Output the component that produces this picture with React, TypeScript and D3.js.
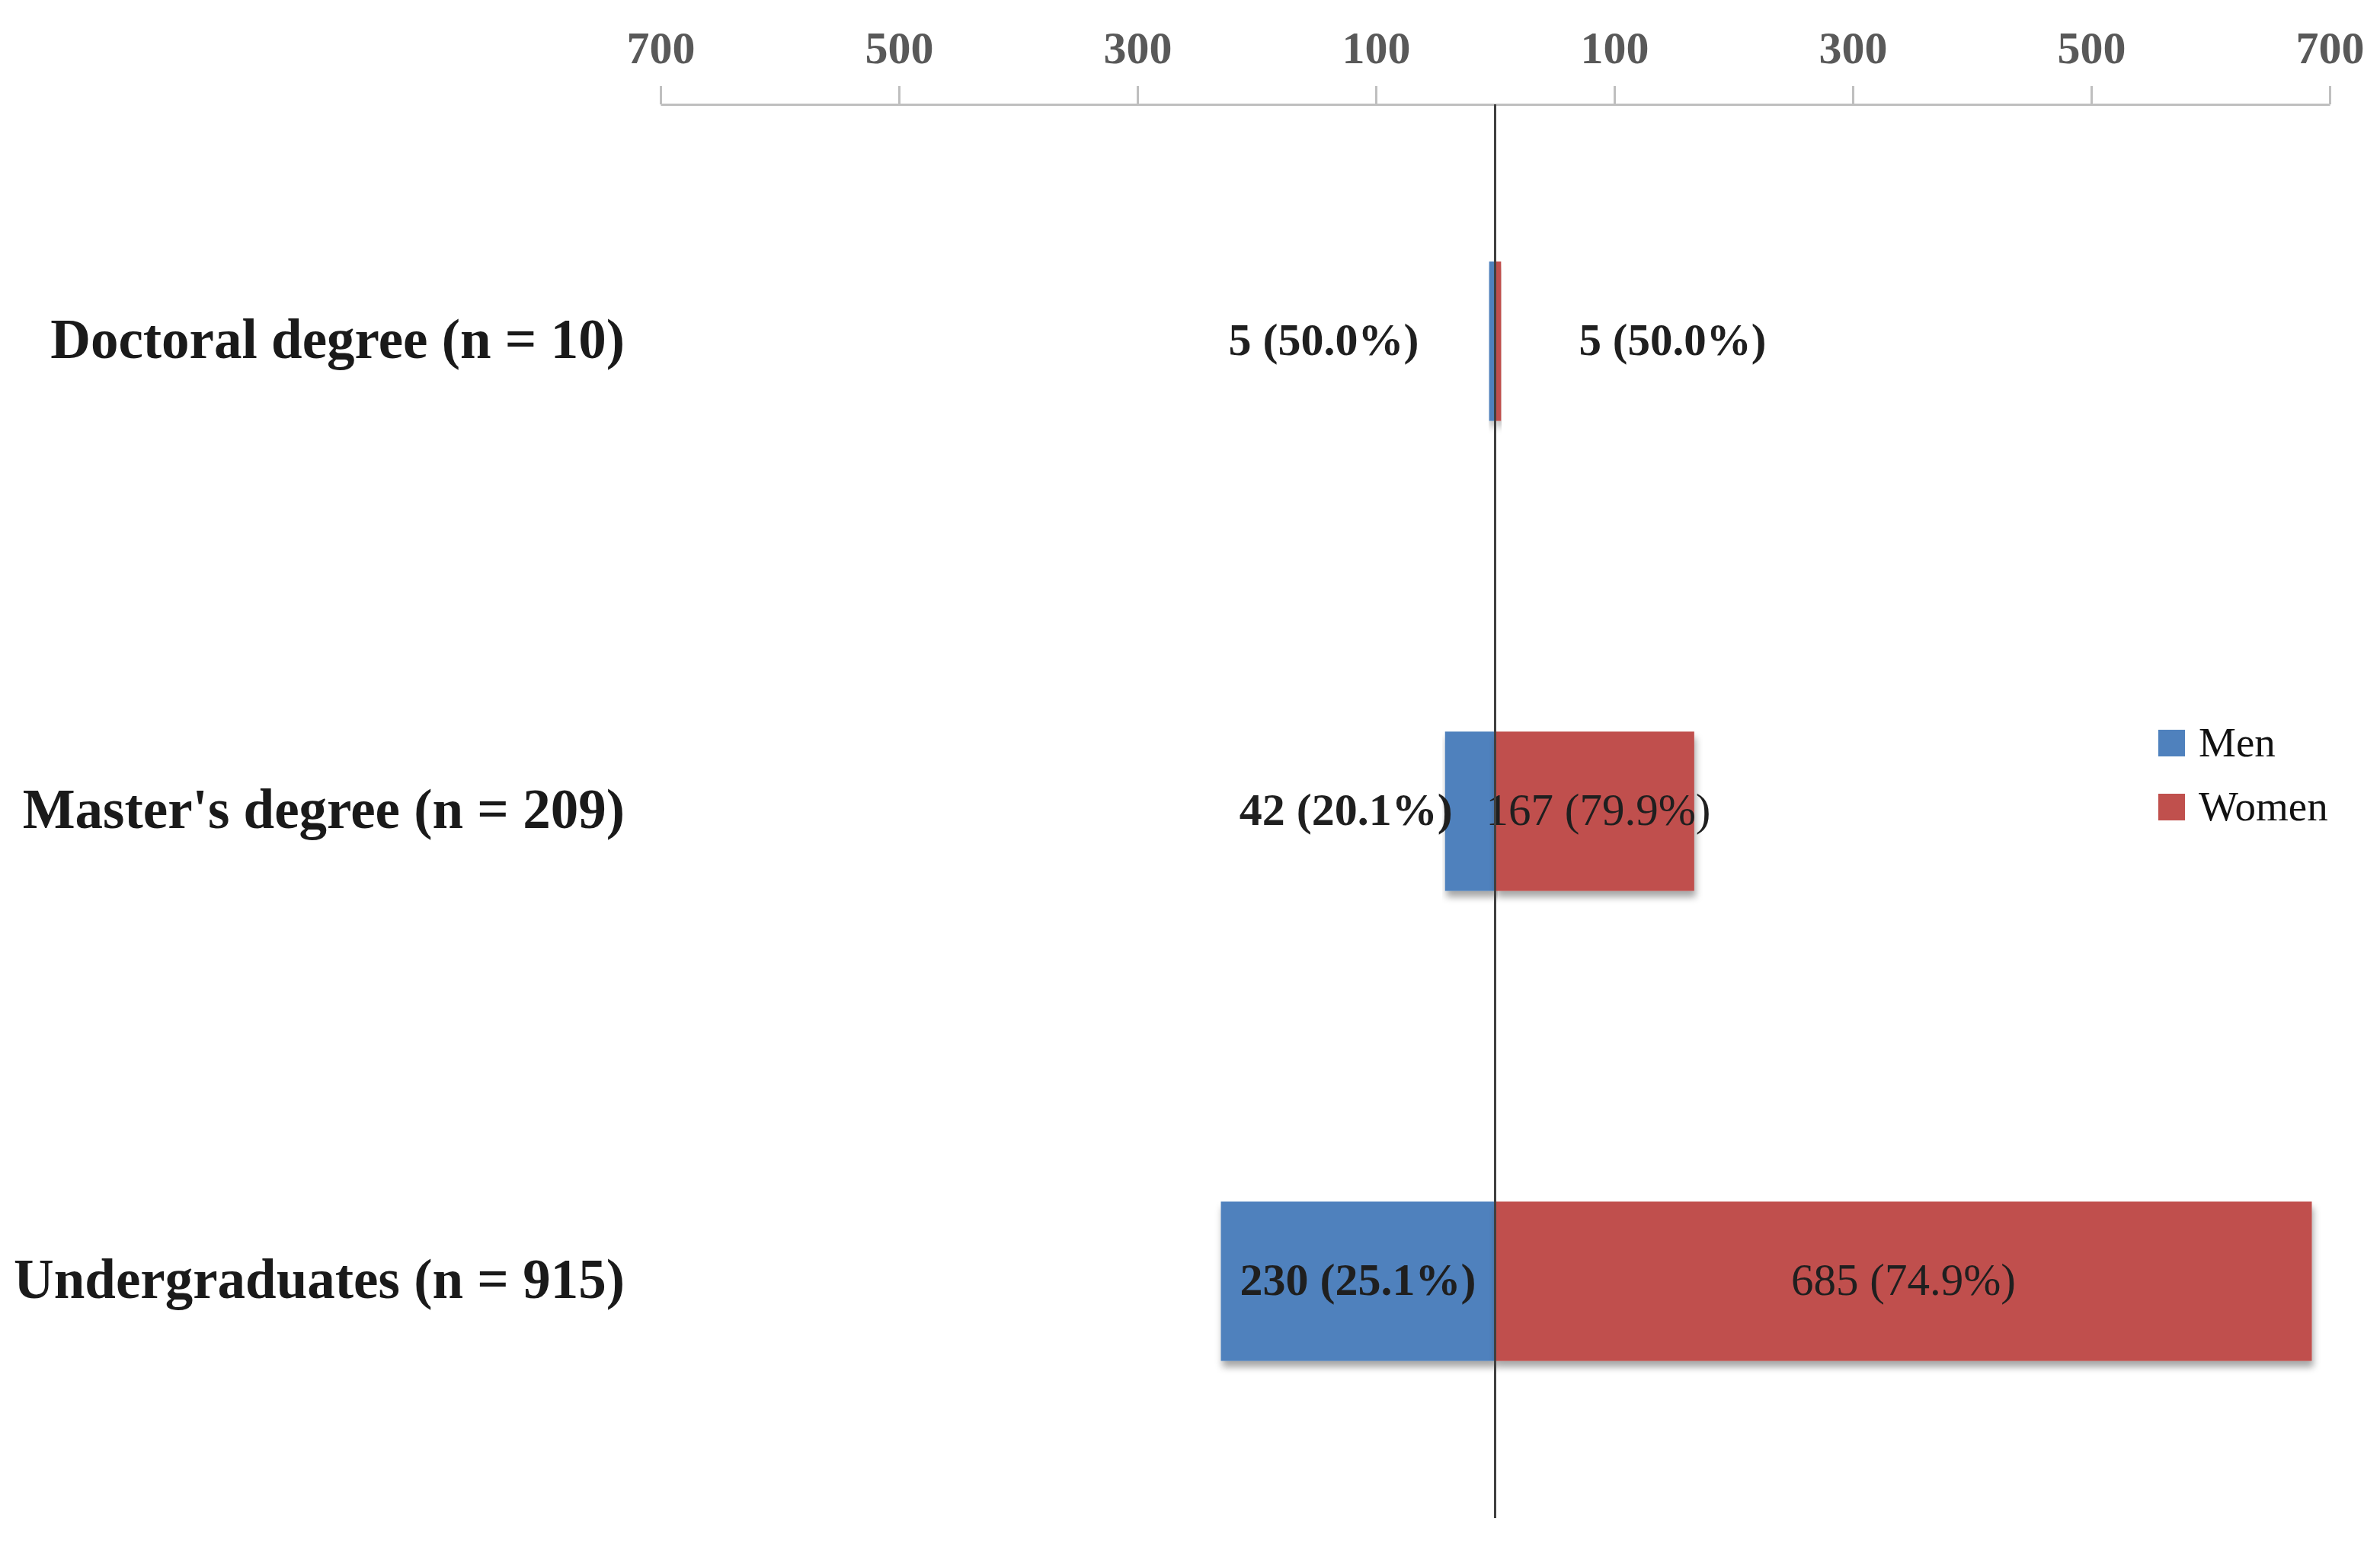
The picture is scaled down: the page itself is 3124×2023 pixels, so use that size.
import * as d3 from "d3";

const categories = [
  "Doctoral degree (n = 10)",
  "Master's degree (n = 209)",
  "Undergraduates (n = 915)",
];
const men = [5, 42, 230];
const women = [5, 167, 685];
const menPct = ["50.0%", "20.1%", "25.1%"];
const womenPct = ["50.0%", "79.9%", "74.9%"];
const tickValues = [-700, -500, -300, -100, 100, 300, 500, 700];
const legendLabels = ["Men", "Women"];

const BLUE = "#4f81bd";
const RED = "#c0504d";
const FONT = "'Liberation Serif', 'Times New Roman', serif";

const App = () => {
  const width = 3124;
  const height = 2023;
  const axisY = 137;
  const bottomY = 1993;

  const xScale = d3.scaleLinear().domain([-700, 700]).range([867, 3058]);
  const yScale = d3
    .scaleBand()
    .domain(categories)
    .range([axisY, bottomY])
    .paddingInner(0.661)
    .paddingOuter(0.3345);

  const x0 = xScale(0);
  const bw = yScale.bandwidth();

  const axis = d3
    .axisTop(xScale)
    .tickValues(tickValues)
    .tickFormat((d) => String(Math.abs(+d)))
    .tickSize(24)
    .tickSizeOuter(0)
    .tickPadding(30);

  const colors = [BLUE, RED];

  return (
    <svg
      width={width}
      height={height}
      style={{ position: "absolute", left: 0, top: 0, background: "#fff" }}
    >
      <defs>
        <filter id="shadow" x="-5%" y="-20%" width="110%" height="150%">
          <feDropShadow
            dx={2}
            dy={8}
            stdDeviation={5}
            floodColor="#000"
            floodOpacity={0.35}
          />
        </filter>
      </defs>

      <g
        transform={`translate(0,${axisY})`}
        ref={(node) => {
          if (!node) return;
          const g = d3.select(node);
          g.call(axis as any);
          g.select(".domain").attr("stroke", "#bfbfbf").attr("stroke-width", 3);
          g.selectAll(".tick line").attr("stroke", "#bfbfbf").attr("stroke-width", 3);
          g.selectAll(".tick text")
            .attr("fill", "#595959")
            .attr("font-family", FONT)
            .attr("font-weight", "bold")
            .attr("font-size", 60);
        }}
      />

      {categories.map((cat, i) => {
        const y = yScale(cat)!;
        const cy = y + bw / 2;
        const xm = xScale(-men[i]);
        const xw = xScale(women[i]);
        const menLabel = `${men[i]} (${menPct[i]})`;
        const womenLabel = `${women[i]} (${womenPct[i]})`;

        // label placement differs per row, as in the original figure
        let menX = (xm + x0) / 2;
        let menAnchor = "middle";
        let womenX = (x0 + xw) / 2;
        let womenAnchor = "middle";
        if (i === 0) {
          menX = x0 - 100;
          menAnchor = "end";
          womenX = x0 + 110;
          womenAnchor = "start";
        } else if (i === 1) {
          menX = xm + 10;
          menAnchor = "end";
          womenX = x0 - 12;
          womenAnchor = "start";
        }

        return (
          <g key={cat}>
            <text
              x={820}
              y={cy + 22}
              textAnchor="end"
              fontFamily={FONT}
              fontWeight="bold"
              fontSize={73}
              fill="#1a1a1a"
            >
              {cat}
            </text>
            <rect
              x={xm}
              y={y}
              width={x0 - xm}
              height={bw}
              fill={BLUE}
              filter="url(#shadow)"
            />
            <rect
              x={x0}
              y={y}
              width={xw - x0}
              height={bw}
              fill={RED}
              filter="url(#shadow)"
            />
            <text
              x={menX}
              y={cy + 18}
              textAnchor={menAnchor}
              fontFamily={FONT}
              fontWeight="bold"
              fontSize={60}
              fill="#1f1f1f"
            >
              {menLabel}
            </text>
            <text
              x={womenX}
              y={cy + 18}
              textAnchor={womenAnchor}
              fontFamily={FONT}
              fontWeight={i === 0 ? "bold" : "normal"}
              fontSize={59}
              fill="#1f1f1f"
            >
              {womenLabel}
            </text>
          </g>
        );
      })}

      <line
        x1={x0}
        x2={x0}
        y1={axisY}
        y2={bottomY}
        stroke="#404040"
        strokeWidth={3}
      />

      <g transform="translate(2833,958)">
        {legendLabels.map((lab, i) => (
          <g key={lab} transform={`translate(0,${i * 84})`}>
            <rect width={35} height={35} fill={colors[i]} />
            <text
              x={53}
              y={35}
              fontFamily={FONT}
              fontSize={55}
              fill="#111"
            >
              {lab}
            </text>
          </g>
        ))}
      </g>
    </svg>
  );
};

export default App;
